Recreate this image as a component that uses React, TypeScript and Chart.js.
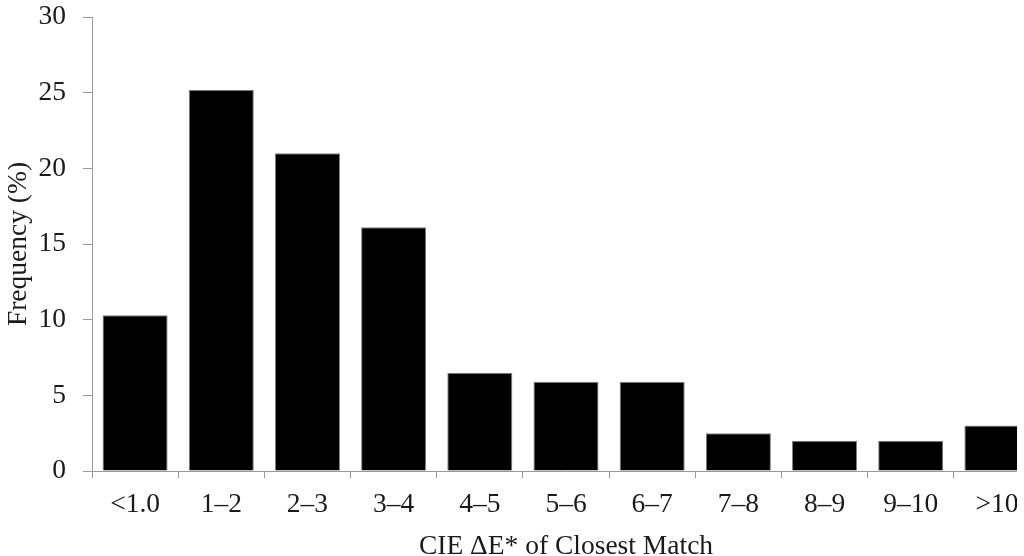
import React, { useEffect, useRef } from "react";
import { Chart, registerables } from "chart.js";

Chart.register(...registerables);

const categories = ["<1.0", "1–2", "2–3", "3–4", "4–5", "5–6", "6–7", "7–8", "8–9", "9–10", ">10"];
const frequency = [10.3, 25.2, 21.0, 16.1, 6.5, 5.9, 5.9, 2.5, 2.0, 2.0, 3.0];
const yTicks = [0, 5, 10, 15, 20, 25, 30];
const xTitle = "CIE ΔE* of Closest Match";
const yTitle = "Frequency (%)";

const FONT = "'Liberation Serif', 'Times New Roman', serif";
const FS = 27.5;

export default function App() {
  const ref = useRef<HTMLCanvasElement | null>(null);

  useEffect(() => {
    if (!ref.current) return;
    const chart = new Chart(ref.current, {
      type: "bar",
      data: {
        labels: categories,
        datasets: [
          {
            data: frequency,
            backgroundColor: "#000000",
            borderColor: "#808080",
            borderWidth: 1,
            categoryPercentage: 1,
            barPercentage: 0.755,
          },
        ],
      },
      options: {
        responsive: false,
        animation: false,
        devicePixelRatio: 1,
        layout: { padding: { top: 17, left: 0, right: 0, bottom: 0 } },
        plugins: { legend: { display: false }, tooltip: { enabled: false } },
        scales: {
          x: {
            type: "category",
            offset: true,
            afterFit: (scale: any) => {
              scale.height = 137;
              scale.paddingLeft = 0;
              scale.paddingRight = 0;
            },
            grid: {
              display: true,
              offset: true,
              drawOnChartArea: false,
              drawTicks: true,
              tickLength: 7,
              color: "#999999",
            },
            border: { display: true, color: "#999999", width: 1 },
            ticks: {
              color: "#1a1a1a",
              padding: 13,
              font: { family: FONT, size: FS, lineHeight: 1 },
              maxRotation: 0,
              autoSkip: false,
            },
            title: {
              display: true,
              text: xTitle,
              color: "#1a1a1a",
              font: { family: FONT, size: FS, lineHeight: 1.2 },
              padding: { top: 0, bottom: 45 },
            },
          },
          y: {
            min: 0,
            max: 30,
            afterFit: (scale: any) => {
              scale.width = 84;
              scale.paddingTop = 0;
              scale.paddingBottom = 0;
            },
            afterBuildTicks: (scale: any) => {
              scale.ticks = yTicks.map((v) => ({ value: v }));
            },
            grid: {
              display: true,
              drawOnChartArea: false,
              drawTicks: true,
              tickLength: 9,
              color: "#999999",
            },
            border: { display: true, color: "#999999", width: 1 },
            ticks: {
              color: "#1a1a1a",
              padding: 17,
              font: { family: FONT, size: FS, lineHeight: 0.6 },
            },
            title: {
              display: true,
              text: yTitle,
              color: "#1a1a1a",
              font: { family: FONT, size: FS, lineHeight: 0.8 },
              padding: 0,
            },
          },
        },
      },
    });
    return () => chart.destroy();
  }, []);

  return (
    <div style={{ position: "fixed", left: 8, top: 0, width: 1009, height: 556, overflow: "hidden" }}>
      <canvas ref={ref} width={1032} height={608} style={{ width: 1032, height: 608, display: "block" }} />
    </div>
  );
}
